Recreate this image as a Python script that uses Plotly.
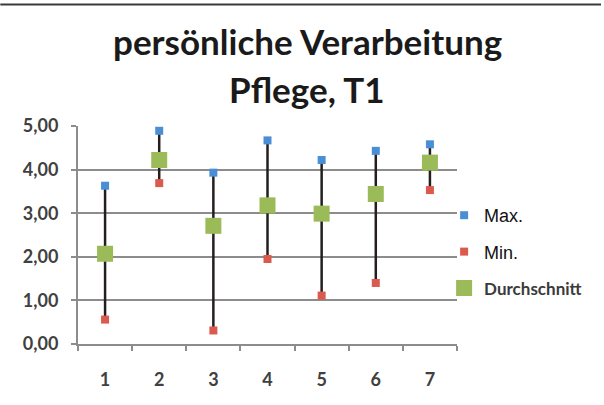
import plotly.graph_objects as go

# ---------------------------------------------------------------------------
# Data
# ---------------------------------------------------------------------------

categories = ["1", "2", "3", "4", "5", "6", "7"]
max_values = [3.63, 4.89, 3.93, 4.67, 4.22, 4.43, 4.58]
min_values = [0.56, 3.69, 0.31, 1.95, 1.11, 1.40, 3.53]
avg_values = [2.07, 4.22, 2.71, 3.18, 2.99, 3.44, 4.16]

y_ticks = [0, 1, 2, 3, 4, 5]

MAX_BLUE = "#4A8FD6"
MIN_RED = "#DB5A4E"
AVG_GREEN = "#9BBB59"
LINE_DARK = "#231F1F"
GRID_GRAY = "#8C8C8C"
TEXT_GRAY = "#404040"

# high-low lines built from min/max, separated by None
hl_x, hl_y = [], []
for c, lo, hi in zip(categories, min_values, max_values):
    hl_x += [c, c, None]
    hl_y += [lo, hi, None]

fig = go.Figure()

fig.add_trace(go.Scatter(
    x=hl_x, y=hl_y,
    mode="lines",
    line=dict(color=LINE_DARK, width=2.5),
    showlegend=False,
    hoverinfo="skip",
))

fig.add_trace(go.Scatter(
    x=categories, y=max_values,
    mode="markers",
    name="Max.",
    legendgroup="max",
    marker=dict(symbol="square", size=8, color=MAX_BLUE),
))

fig.add_trace(go.Scatter(
    x=categories, y=min_values,
    mode="markers",
    name="Min.",
    legendgroup="min",
    marker=dict(symbol="square", size=8, color=MIN_RED),
))

fig.add_trace(go.Scatter(
    x=categories, y=avg_values,
    mode="markers",
    name="<span style='font-family:Lato;font-weight:bold;font-size:17px;fill:#3a3a3a'>Durchschnitt</span>",
    legendgroup="avg",
    marker=dict(symbol="square", size=16, color=AVG_GREEN),
))

# two-line title as annotations for the wider line spacing
fig.add_annotation(
    text="<b>persönliche Verarbeitung</b>",
    xref="paper", yref="paper", x=0.6055, y=1.392,
    xanchor="center", yanchor="middle", showarrow=False,
    font=dict(family="Lato", size=35, color="#1A1A1A"),
)
fig.add_annotation(
    text="<b>Pflege, T1</b>",
    xref="paper", yref="paper", x=0.6055, y=1.170,
    xanchor="center", yanchor="middle", showarrow=False,
    font=dict(family="Lato", size=35, color="#1A1A1A"),
)

# top frame line
fig.add_shape(
    type="line", xref="paper", yref="paper",
    x0=-0.205, x1=1.38, y0=1.557, y1=1.557,
    line=dict(color="#3A3A3A", width=2),
)

fig.update_layout(
    width=604,
    height=405,
    margin=dict(l=78, r=147, t=126, b=61, autoexpand=False),
    paper_bgcolor="white",
    plot_bgcolor="white",
    separators=",.",
    showlegend=True,
    legend=dict(
        x=0.966, y=0.422, xanchor="left", yanchor="middle",
        font=dict(family="Liberation Sans", size=18, color="#111111"),
        tracegroupgap=10,
        itemwidth=30,
        borderwidth=0,
        bgcolor="rgba(0,0,0,0)",
    ),
    xaxis=dict(
        type="category",
        categoryorder="array",
        categoryarray=categories,
        tickson="boundaries",
        ticks="outside",
        ticklen=5,
        tickwidth=2,
        tickcolor=GRID_GRAY,
        showline=True,
        linecolor=GRID_GRAY,
        linewidth=2,
        showgrid=False,
        ticklabelstandoff=18,
        tickfont=dict(family="Lato", size=18, color=TEXT_GRAY, weight="bold"),
        range=[-0.5, 6.5],
    ),
    yaxis=dict(
        range=[0, 5],
        tickvals=y_ticks,
        tickformat=".2f",
        ticks="outside",
        ticklen=5,
        tickwidth=2,
        tickcolor=GRID_GRAY,
        showline=True,
        linecolor=GRID_GRAY,
        linewidth=2,
        showgrid=True,
        gridcolor=GRID_GRAY,
        gridwidth=2,
        zeroline=False,
        ticklabelstandoff=9,
        tickfont=dict(family="Lato", size=18, color=TEXT_GRAY, weight="bold"),
    ),
)

# remove the default page margin so the figure sits at the window's corner
fig.write_html(
    "out.html",
    config={"displayModeBar": False},
    post_script=(
        "document.body.style.margin = '0';"
        "document.body.style.overflow = 'hidden';"
        "document.documentElement.style.overflow = 'hidden';"
    ),
)
